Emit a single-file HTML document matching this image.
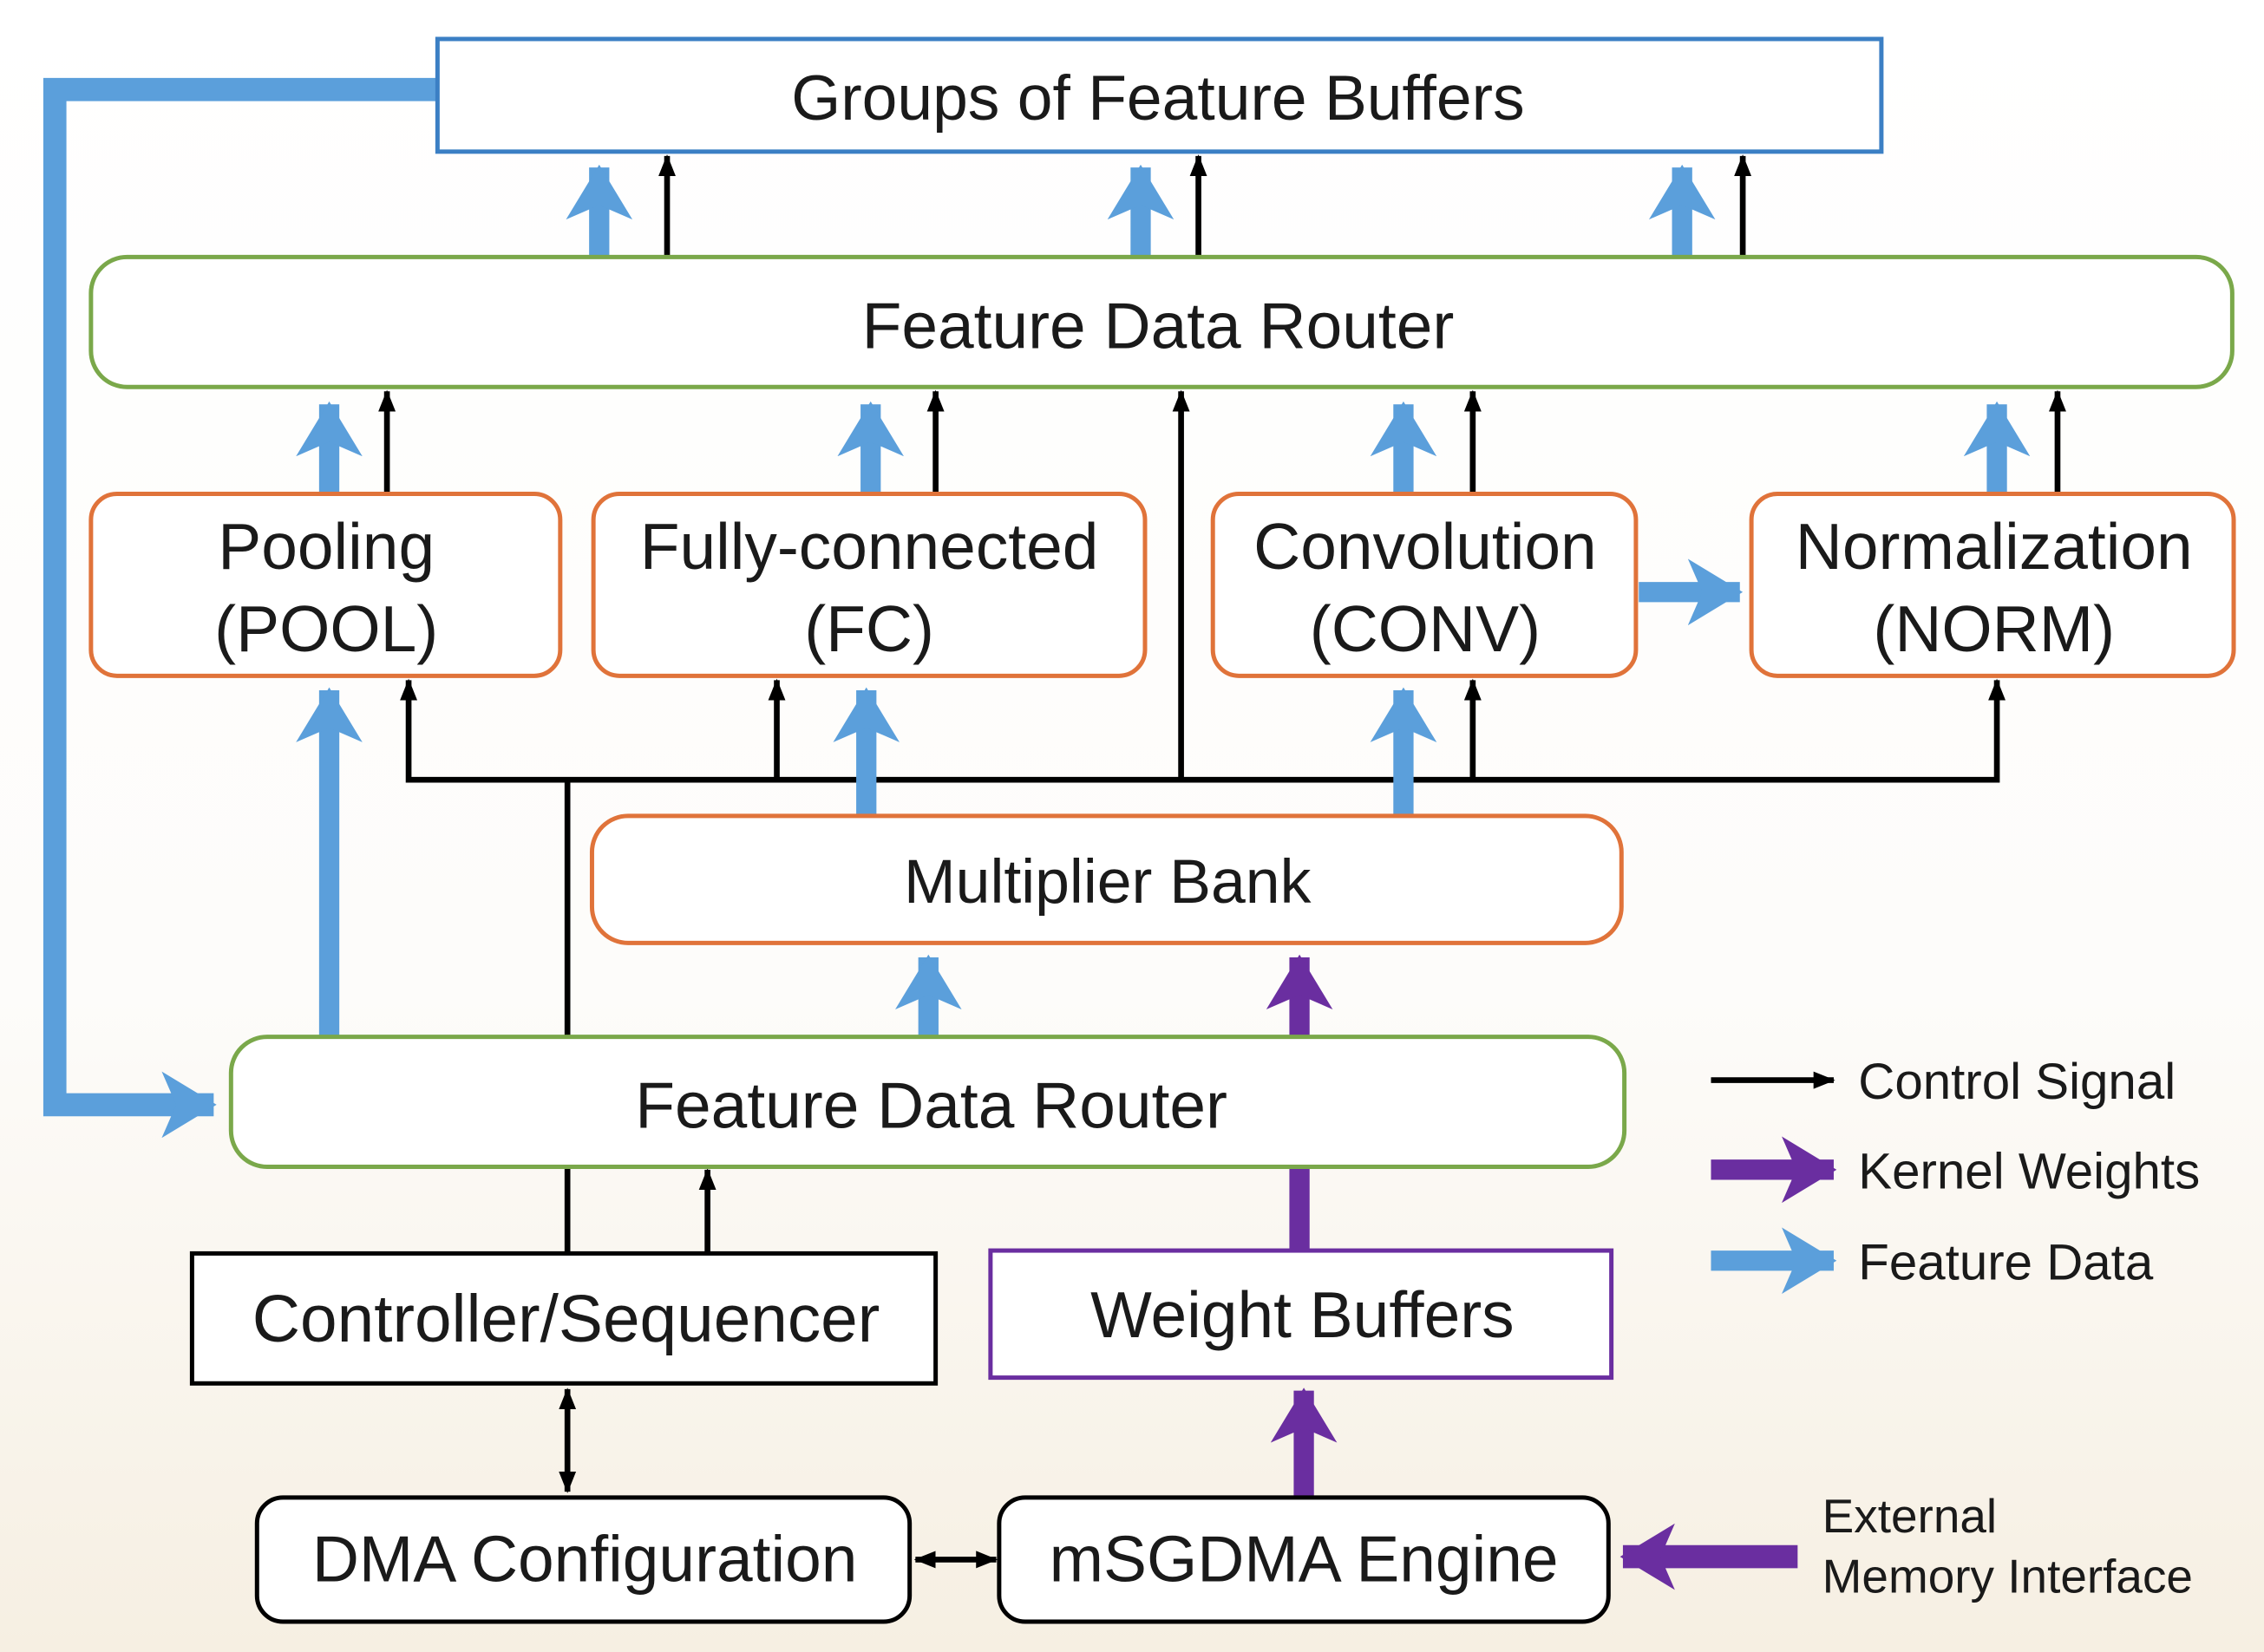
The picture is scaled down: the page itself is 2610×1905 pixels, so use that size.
<!DOCTYPE html>
<html><head><meta charset="utf-8"><style>
html,body{margin:0;padding:0;background:#fff}
svg{display:block}
text{font-family:"Liberation Sans",Arial,sans-serif;fill:#1a1a1a;text-anchor:middle}
</style></head><body>
<svg width="2610" height="1905" viewBox="0 0 1568 1144" preserveAspectRatio="none" xmlns="http://www.w3.org/2000/svg">
<defs>
<linearGradient id="bg" x1="0" y1="0" x2="0" y2="1">
<stop offset="0" stop-color="#ffffff"/><stop offset="0.6" stop-color="#fdfcfa"/><stop offset="1" stop-color="#f6efe2"/>
</linearGradient>
<marker id="bh" markerUnits="userSpaceOnUse" markerWidth="46" markerHeight="46" refX="36" refY="23" orient="auto"><path d="M0,0 L38,23 L0,46 L10,23 Z" fill="#5b9fdb"/></marker>
<marker id="ph" markerUnits="userSpaceOnUse" markerWidth="46" markerHeight="46" refX="36" refY="23" orient="auto"><path d="M0,0 L38,23 L0,46 L10,23 Z" fill="#6a2ea0"/></marker>
<marker id="kh" markerUnits="userSpaceOnUse" markerWidth="16" markerHeight="16" refX="14" refY="8" orient="auto"><path d="M0,2 L15,8 L0,14 Z" fill="#000"/></marker>
<marker id="ks" markerUnits="userSpaceOnUse" markerWidth="16" markerHeight="16" refX="2" refY="8" orient="auto"><path d="M16,2 L1,8 L16,14 Z" fill="#000"/></marker>
</defs>
<rect width="1568" height="1144" fill="url(#bg)"/>

<path d="M303,62 L38,62 L38,765 L148,765" fill="none" stroke="#5b9fdb" stroke-width="16" marker-end="url(#bh)"/>

<rect x="303" y="27" width="1000" height="78" fill="#fff" stroke="#3b7fc4" stroke-width="3"/>
<text x="802" y="83" font-size="44">Groups of Feature Buffers</text>

<g stroke="#5b9fdb" stroke-width="14" marker-end="url(#bh)">
<line x1="415" y1="178" x2="415" y2="116"/><line x1="790" y1="178" x2="790" y2="116"/><line x1="1165" y1="178" x2="1165" y2="116"/>
</g>
<g stroke="#000" stroke-width="4" marker-end="url(#kh)">
<line x1="462" y1="178" x2="462" y2="108"/><line x1="830" y1="178" x2="830" y2="108"/><line x1="1207" y1="178" x2="1207" y2="108"/>
</g>

<rect x="63" y="178" width="1483" height="90" rx="25" fill="#fff" stroke="#7aa84a" stroke-width="3"/>
<text x="802" y="241" font-size="45">Feature Data Router</text>

<g stroke="#5b9fdb" stroke-width="14" marker-end="url(#bh)">
<line x1="228" y1="342" x2="228" y2="280"/><line x1="603" y1="342" x2="603" y2="280"/><line x1="972" y1="342" x2="972" y2="280"/><line x1="1383" y1="342" x2="1383" y2="280"/>
</g>
<g stroke="#000" stroke-width="4" marker-end="url(#kh)">
<line x1="268" y1="342" x2="268" y2="271"/><line x1="648" y1="342" x2="648" y2="271"/><line x1="1020" y1="342" x2="1020" y2="271"/><line x1="1425" y1="342" x2="1425" y2="271"/>
<line x1="818" y1="540" x2="818" y2="271"/>
</g>

<g fill="#fff" stroke="#e0733a" stroke-width="3">
<rect x="63" y="342" width="325" height="126" rx="18"/>
<rect x="411" y="342" width="382" height="126" rx="18"/>
<rect x="840" y="342" width="293" height="126" rx="18"/>
<rect x="1213" y="342" width="334" height="126" rx="18"/>
</g>
<g font-size="45">
<text x="226" y="394">Pooling</text><text x="226" y="451">(POOL)</text>
<text x="602" y="394">Fully-connected</text><text x="602" y="451">(FC)</text>
<text x="987" y="394">Convolution</text><text x="987" y="451">(CONV)</text>
<text x="1381" y="394">Normalization</text><text x="1381" y="451">(NORM)</text>
</g>
<line x1="1135" y1="410" x2="1205" y2="410" stroke="#5b9fdb" stroke-width="14" marker-end="url(#bh)"/>

<path d="M283,540 L1383,540" stroke="#000" stroke-width="4" fill="none"/>
<g stroke="#000" stroke-width="4" marker-end="url(#kh)">
<line x1="283" y1="542" x2="283" y2="471"/><line x1="538" y1="540" x2="538" y2="471"/><line x1="1020" y1="540" x2="1020" y2="471"/><line x1="1383" y1="542" x2="1383" y2="471"/>
<line x1="490" y1="868" x2="490" y2="810"/>
</g>
<line x1="393" y1="540" x2="393" y2="868" stroke="#000" stroke-width="4"/>

<g stroke="#5b9fdb" stroke-width="14" marker-end="url(#bh)">
<line x1="600" y1="565" x2="600" y2="478"/><line x1="972" y1="565" x2="972" y2="478"/>
<line x1="228" y1="718" x2="228" y2="478"/><line x1="643" y1="718" x2="643" y2="663"/>
</g>

<rect x="410" y="565" width="713" height="88" rx="25" fill="#fff" stroke="#e0733a" stroke-width="3"/>
<text x="767" y="625" font-size="43">Multiplier Bank</text>

<line x1="900" y1="866" x2="900" y2="663" stroke="#6a2ea0" stroke-width="14" marker-end="url(#ph)"/>

<rect x="160" y="718" width="965" height="90" rx="25" fill="#fff" stroke="#7aa84a" stroke-width="3"/>
<text x="645" y="781" font-size="45">Feature Data Router</text>

<rect x="133" y="868" width="515" height="90" fill="#fff" stroke="#000" stroke-width="3"/>
<text x="392" y="929" font-size="46">Controller/Sequencer</text>
<rect x="686" y="866" width="430" height="88" fill="#fff" stroke="#6a2ea0" stroke-width="3"/>
<text x="902" y="926" font-size="45">Weight Buffers</text>

<line x1="393" y1="962" x2="393" y2="1033" stroke="#000" stroke-width="4" marker-start="url(#ks)" marker-end="url(#kh)"/>
<line x1="634" y1="1080" x2="690" y2="1080" stroke="#000" stroke-width="4" marker-start="url(#ks)" marker-end="url(#kh)"/>
<line x1="903" y1="1037" x2="903" y2="963" stroke="#6a2ea0" stroke-width="14" marker-end="url(#ph)"/>
<line x1="1245" y1="1078" x2="1124" y2="1078" stroke="#6a2ea0" stroke-width="16" marker-end="url(#ph)"/>

<rect x="178" y="1037" width="452" height="86" rx="18" fill="#fff" stroke="#000" stroke-width="3"/>
<text x="405" y="1095" font-size="45">DMA Configuration</text>
<rect x="692" y="1037" width="422" height="86" rx="18" fill="#fff" stroke="#000" stroke-width="3"/>
<text x="903" y="1095" font-size="45">mSGDMA Engine</text>

<text x="1262" y="1061" font-size="33" style="text-anchor:start">External</text>
<text x="1262" y="1103" font-size="33" style="text-anchor:start">Memory Interface</text>

<line x1="1185" y1="748" x2="1270" y2="748" stroke="#000" stroke-width="4" marker-end="url(#kh)"/>
<line x1="1185" y1="810" x2="1270" y2="810" stroke="#6a2ea0" stroke-width="14" marker-end="url(#ph)"/>
<line x1="1185" y1="873" x2="1270" y2="873" stroke="#5b9fdb" stroke-width="14" marker-end="url(#bh)"/>
<text x="1287" y="761" font-size="35" style="text-anchor:start">Control Signal</text>
<text x="1287" y="823" font-size="35" style="text-anchor:start">Kernel Weights</text>
<text x="1287" y="886" font-size="35" style="text-anchor:start">Feature Data</text>
</svg>
</body></html>
